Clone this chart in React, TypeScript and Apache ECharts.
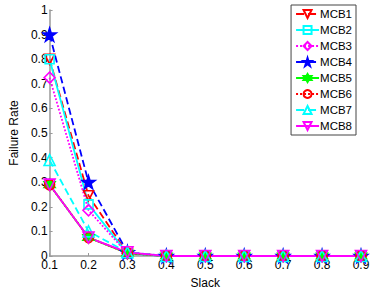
import React, { useEffect, useRef } from "react";
import * as echarts from "echarts";

const slack = ["0.1", "0.2", "0.3", "0.4", "0.5", "0.6", "0.7", "0.8", "0.9"];
const yTicks = [0, 0.1, 0.2, 0.3, 0.4, 0.5, 0.6, 0.7, 0.8, 0.9, 1];

const mcb1 = [0.8, 0.245, 0.01, 0, 0, 0, 0, 0, 0];
const mcb2 = [0.8, 0.21, 0.01, 0, 0, 0, 0, 0, 0];
const mcb3 = [0.725, 0.186, 0.01, 0, 0, 0, 0, 0, 0];
const mcb4 = [0.9, 0.3, 0.015, 0, 0, 0, 0, 0, 0];
const mcb5 = [0.29, 0.075, 0.012, 0, 0, 0, 0, 0, 0];
const mcb6 = [0.29, 0.075, 0.012, 0, 0, 0, 0, 0, 0];
const mcb7 = [0.39, 0.1, 0.015, 0, 0, 0, 0, 0, 0];
const mcb8 = [0.29, 0.075, 0.015, 0, 0, 0, 0, 0, 0];

const STAR = "path://M50 0 L61.23 34.55 L97.55 34.55 L68.16 55.9 L79.39 90.45 L50 69.1 L20.61 90.45 L31.84 55.9 L2.45 34.55 L38.77 34.55 Z";
const HEX = "path://M50 0 L63 25 L93 25 L78 50 L93 75 L63 75 L50 100 L37 75 L7 75 L22 50 L7 25 L37 25 Z";

const seriesDefs = [
  { name: "MCB1", data: mcb1, color: "#ff0000", type: "dashed", symbol: "triangle", rotate: 180, filled: false, size: 10 },
  { name: "MCB2", data: mcb2, color: "#00ffff", type: "solid", symbol: "rect", rotate: 0, filled: false, size: 9 },
  { name: "MCB3", data: mcb3, color: "#ff00ff", type: "dotted", symbol: "diamond", rotate: 0, filled: false, size: 11 },
  { name: "MCB4", data: mcb4, color: "#0000ff", type: "dashed", symbol: STAR, rotate: 0, filled: true, size: 13 },
  { name: "MCB5", data: mcb5, color: "#00ff00", type: "solid", symbol: HEX, rotate: 0, filled: true, size: 11 },
  { name: "MCB6", data: mcb6, color: "#ff0000", type: "dotted", symbol: "circle", rotate: 0, filled: false, size: 10 },
  { name: "MCB7", data: mcb7, color: "#00ffff", type: "dashed", symbol: "triangle", rotate: 0, filled: false, size: 11 },
  { name: "MCB8", data: mcb8, color: "#ff00ff", type: "solid", symbol: "triangle", rotate: 180, filled: false, size: 11 },
];

const FONT = "Liberation Sans, Arial, sans-serif";

export default function App() {
  const ref = useRef<HTMLDivElement>(null);
  useEffect(() => {
    if (!ref.current) return;
    const chart = echarts.init(ref.current, null, { renderer: "svg" });
    chart.setOption({
      animation: false,
      backgroundColor: "#ffffff",
      textStyle: { fontFamily: FONT },
      grid: { left: 37, right: 13, top: 10, bottom: 30, containLabel: false },
      legend: {
        orient: "vertical",
        right: 18,
        top: 5,
        padding: [3, 4, 3, 4],
        itemGap: 4,
        itemWidth: 23,
        itemHeight: 10,
        backgroundColor: "#ffffff",
        borderColor: "#444444",
        borderWidth: 1,
        textStyle: { fontSize: 11.5, color: "#000", fontFamily: FONT, padding: [0, 0, 0, -4] },
        data: seriesDefs.map((s) => s.name),
      },
      xAxis: {
        type: "category",
        data: slack,
        boundaryGap: false,
        name: "Slack",
        nameLocation: "middle",
        nameGap: 21,
        nameTextStyle: { fontSize: 12, color: "#000", fontFamily: FONT },
        axisLine: { lineStyle: { color: "#999999", width: 1.5 } },
        axisTick: { inside: true, length: 3, alignWithLabel: true, lineStyle: { color: "#999999" } },
        axisLabel: { fontSize: 12, color: "#000", margin: 3, fontFamily: FONT },
        splitLine: { show: false },
      },
      yAxis: {
        type: "value",
        min: yTicks[0],
        max: yTicks[yTicks.length - 1],
        interval: 0.1,
        name: "Failure Rate",
        nameLocation: "middle",
        nameGap: 27,
        nameTextStyle: { fontSize: 12, color: "#000", fontFamily: FONT },
        axisLine: { show: true, lineStyle: { color: "#999999", width: 1.5 } },
        axisTick: { show: true, inside: true, length: 3, lineStyle: { color: "#999999" } },
        axisLabel: {
          fontSize: 12,
          color: "#000",
          margin: 2,
          fontFamily: FONT,
          formatter: (v: number) => String(Math.round(v * 10) / 10),
        },
        splitLine: { show: false },
      },
      series: seriesDefs.map((s) => ({
        name: s.name,
        type: "line",
        data: s.data,
        color: s.color,
        symbol: s.symbol,
        symbolSize: s.size,
        symbolRotate: s.rotate,
        showAllSymbol: true,
        lineStyle: { color: s.color, width: 1.8, type: s.type },
        itemStyle: {
          color: s.filled ? s.color : "rgba(255,255,255,0)",
          borderColor: s.color,
          borderWidth: 1.6,
        },
        emphasis: { disabled: true },
      })),
    });
    return () => chart.dispose();
  }, []);
  return <div ref={ref} style={{ width: 374, height: 294, position: "absolute", left: 0, top: 0 }} />;
}
